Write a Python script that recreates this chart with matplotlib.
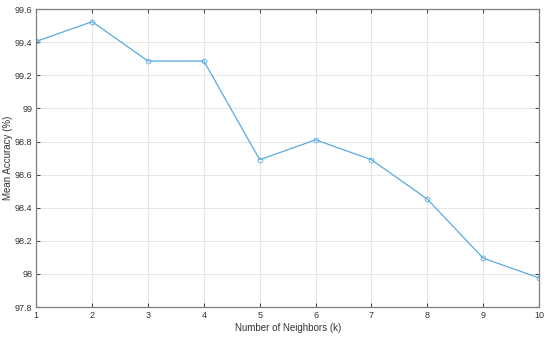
import matplotlib
matplotlib.use("Agg")
import matplotlib.pyplot as plt

k = [1, 2, 3, 4, 5, 6, 7, 8, 9, 10]
accuracy = [99.405, 99.524, 99.286, 99.286, 98.690, 98.810, 98.690, 98.452, 98.095, 97.976]
yticks = [97.8, 98, 98.2, 98.4, 98.6, 98.8, 99, 99.2, 99.4, 99.6]
ytick_labels = ["97.8", "98", "98.2", "98.4", "98.6", "98.8", "99", "99.2", "99.4", "99.6"]

plt.rcParams["font.family"] = "Liberation Sans"

fig = plt.figure(figsize=(5.5, 3.37), dpi=100)
ax = fig.add_axes([0.066, 0.089, 0.914, 0.884])

ax.plot(k, accuracy, color="#5aaae0", lw=0.9, marker="o", ms=3.5,
        mfc="none", mew=0.6)

ax.set_xlim(1, 10)
ax.set_ylim(97.8, 99.6)
ax.set_xticks(k)
ax.set_yticks(yticks)
ax.set_yticklabels(ytick_labels)
ax.grid(True, color="#e3e3e3", lw=0.6)
ax.set_axisbelow(True)

for s in ax.spines.values():
    s.set_color("#7f7f7f")
    s.set_linewidth(0.9)
ax.tick_params(direction="in", top=True, right=True, length=3, width=0.8,
               color="#4d4d4d", labelsize=6.5, labelcolor="#333333", pad=3)

ax.set_xlabel("Number of Neighbors (k)", fontsize=7, color="#333333", labelpad=2)
ax.set_ylabel("Mean Accuracy (%)", fontsize=7, color="#333333", labelpad=1)

fig.savefig("out.png", dpi=100)
